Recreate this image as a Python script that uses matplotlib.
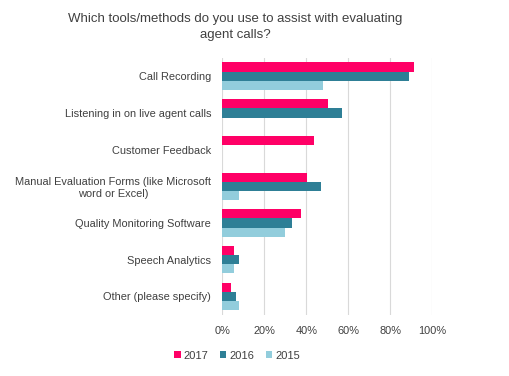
import numpy as np
import matplotlib.pyplot as plt
from matplotlib.ticker import PercentFormatter

plt.rcParams["font.family"] = ["Liberation Sans", "DejaVu Sans"]

categories = ["Call Recording", "Listening in on live agent calls", "Customer Feedback",
              "Manual Evaluation Forms (like Microsoft\nword or Excel)",
              "Quality Monitoring Software", "Speech Analytics", "Other (please specify)"]
v2017 = [91, 50.5, 43.5, 40.5, 37.5, 5.5, 4]
v2016 = [89, 57, 0, 47, 33, 8, 6.7]
v2015 = [48, 0, 0, 8, 30, 5.7, 8]

series = [("2017", v2017, "#FF0066"), ("2016", v2016, "#2E7F96"), ("2015", v2015, "#92CDDC")]

fig = plt.figure(figsize=(5.1, 3.76), dpi=100)
ax = fig.add_axes([0.436, 0.163, 0.412, 0.683])

y = np.arange(len(categories))
h = 0.25
for i, (name, vals, col) in enumerate(series):
    ax.barh(y + (i - 1) * h, vals, height=h, color=col, label=name, zorder=3)

ax.set_ylim(len(categories) - 0.5, -0.5)
ax.set_xlim(0, 100)
ax.set_xticks(range(0, 101, 20))
ax.xaxis.set_major_formatter(PercentFormatter(decimals=0))
ax.set_yticks(y)
ax.set_yticklabels(categories, ha="right", multialignment="center")
ax.tick_params(axis="y", length=0, pad=8, labelsize=7.9, labelcolor="#404040")
ax.tick_params(axis="x", length=0, pad=8, labelsize=7.9, labelcolor="#404040")
ax.grid(axis="x", color="#d9d9d9", linewidth=0.8, zorder=0)
for s in ax.spines.values():
    s.set_visible(False)

fig.text(0.462, 0.928, "Which tools/methods do you use to assist with evaluating\nagent calls?",
         ha="center", va="center", fontsize=9.5, color="#404040", linespacing=1.35)

fig.legend(loc="center", bbox_to_anchor=(0.465, 0.054), ncol=3, frameon=False,
           fontsize=8, handlelength=0.6, handleheight=0.6, columnspacing=1.0,
           handletextpad=0.3, labelcolor="#404040")

fig.savefig("out.png", dpi=100)
